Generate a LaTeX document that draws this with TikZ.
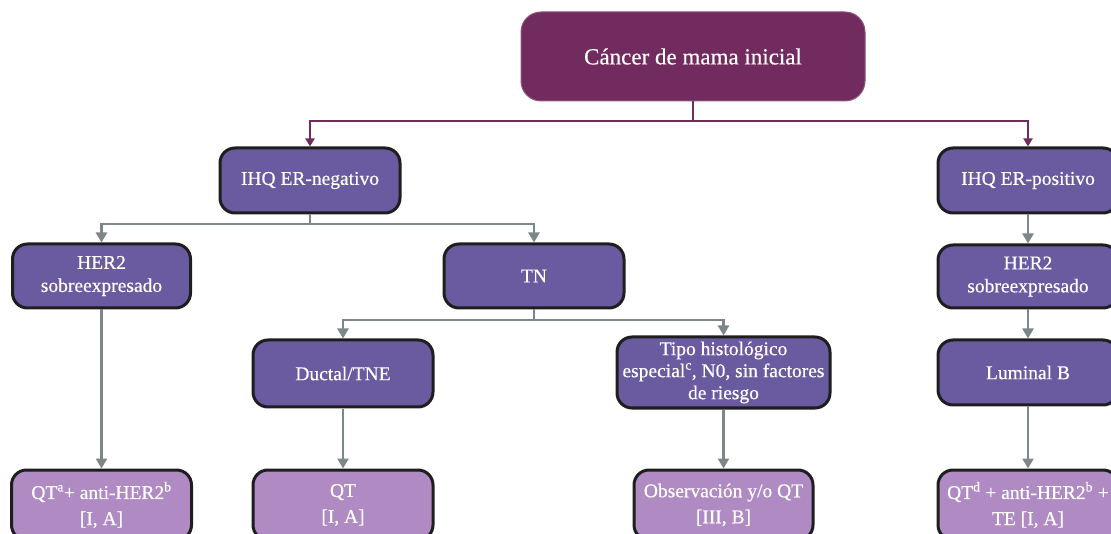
\documentclass[tikz,border=0pt]{standalone}
\usepackage{fontspec}
\setmainfont{Liberation Serif}
\newfontfamily\boxfont[FakeBold=0.4]{Liberation Serif}
\usetikzlibrary{arrows.meta}
\definecolor{maroon}{HTML}{722B5E}
\definecolor{boxpurple}{HTML}{6A5AA0}
\definecolor{lightpurple}{HTML}{B08AC3}
\definecolor{linegray}{HTML}{7D8787}
\definecolor{edge}{HTML}{1E1E1E}
\tikzset{
  rootbox/.style={draw=maroon!80!white, line width=1pt, fill=maroon, rounded corners=20pt,
    text=white, align=center, font=\boxfont\fontsize{23}{27}\selectfont, inner sep=2pt},
  midbox/.style={draw=edge, line width=3pt, fill=boxpurple, rounded corners=15pt,
    text=white, align=center, font=\boxfont\fontsize{19.5}{23}\selectfont, inner sep=2pt},
  leafbox/.style={draw=edge, line width=3pt, fill=lightpurple, rounded corners=15pt,
    text=white, align=center, font=\boxfont\fontsize{19.5}{26}\selectfont, inner sep=2pt},
  mline/.style={draw=maroon, line width=2pt, -{Triangle[width=9pt,length=8pt]}},
  gline/.style={draw=linegray, line width=2.5pt, -{Triangle[width=11pt,length=10pt]}},
}
\begin{document}
\begin{tikzpicture}[x=1pt,y=-1pt]
\useasboundingbox (0,0) rectangle (1111,534);
\clip (0,0) rectangle (1111,534);

% root
\node[rootbox, minimum width=344pt, minimum height=89pt] (root) at (693,56.5) {Cáncer de mama inicial};

% receptor status
\node[midbox, minimum width=180pt, minimum height=65pt] (neg) at (310,180.5) {IHQ ER-negativo};
\node[midbox, minimum width=180pt, minimum height=65pt] (pos) at (1028,180.5) {IHQ ER-positivo};

% ER-negative branch
\node[midbox, minimum width=178pt, minimum height=64pt] (her2l) at (101.5,276) {HER2\\sobreexpresado};
\node[midbox, minimum width=180pt, minimum height=64pt] (tn) at (534,276) {TN};
\node[midbox, minimum width=180pt, minimum height=67pt] (ductal) at (343,373.5) {Ductal/TNE};
\node[midbox, minimum width=213pt, minimum height=71pt] (tipo) at (723.5,372.5)
  {Tipo histológico\\[-1pt]especial\textsuperscript{c}, N0, sin factores\\[-1pt]de riesgo};

% ER-positive branch
\node[midbox, minimum width=180pt, minimum height=63pt] (her2r) at (1028,276.5) {HER2\\sobreexpresado};
\node[midbox, minimum width=180pt, minimum height=65pt] (lum) at (1028,372.5) {Luminal B};

% treatments
\node[leafbox, minimum width=180pt, minimum height=70pt] (t1) at (101.5,505) {QT\textsuperscript{a}+ anti-HER2\textsuperscript{b}\\{}[I, A]};
\node[leafbox, minimum width=180pt, minimum height=70pt] (t2) at (343,505) {QT\\{}[I, A]};
\node[leafbox, minimum width=179pt, minimum height=70pt] (t3) at (723.5,505) {Observación y/o QT\\{}[III, B]};
\node[leafbox, minimum width=180pt, minimum height=70pt] (t4) at (1028,505) {QT\textsuperscript{d} + anti-HER2\textsuperscript{b} +\\TE [I, A]};

% junctions
\coordinate (j0) at (693,121);
\coordinate (j1) at (310,224);
\coordinate (j2) at (534,320);

% connectors
\draw[mline] (root.south) -- (j0) -| (neg.north);
\draw[mline] (j0) -| (pos.north);
\draw[gline] (neg.south) -- (j1) -| (her2l.north);
\draw[gline] (j1) -| (tn.north);
\draw[gline] (tn.south) -- (j2) -| (ductal.north);
\draw[gline] (j2) -| (tipo.north);
\draw[gline] (her2l.south) -- (t1.north);
\draw[gline] (ductal.south) -- (t2.north);
\draw[gline] (tipo.south) -- (t3.north);
\draw[gline] (pos.south) -- (her2r.north);
\draw[gline] (her2r.south) -- (lum.north);
\draw[gline] (lum.south) -- (t4.north);
\end{tikzpicture}
\end{document}
